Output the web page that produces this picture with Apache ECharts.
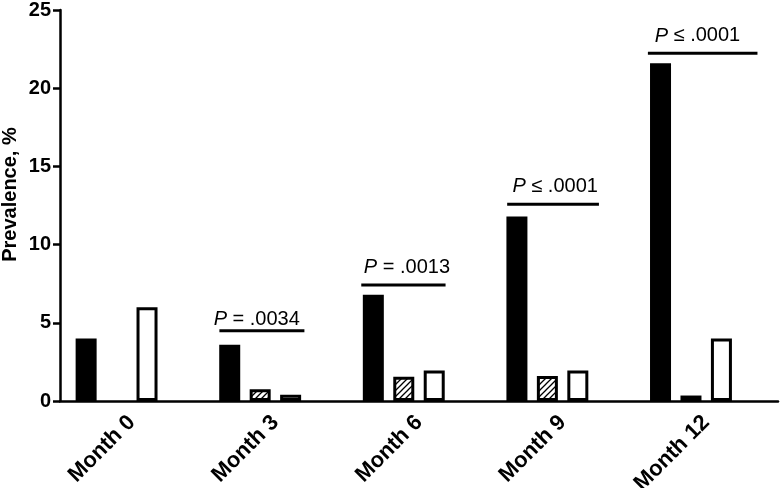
<!DOCTYPE html>
<html>
<head>
<meta charset="utf-8">
<script src="https://cdn.jsdelivr.net/npm/echarts@6/dist/echarts.min.js"></script>
<style>
html,body{margin:0;padding:0;background:#fff;}
#chart{width:780px;height:488px;}
</style>
</head>
<body>
<div id="chart"></div>
<script>
// ---- data ----
var categories = ['Month 0', 'Month 3', 'Month 6', 'Month 9', 'Month 12'];
var seriesBlack = [4.0, 3.6, 6.8, 11.8, 21.6];
var seriesHatched = [null, 0.75, 1.55, 1.6, 0.35];
var seriesWhite = [6.0, 0.4, 1.95, 1.95, 4.0];
var seriesEmpty = [0, 0, 0, 0, 0]; // unused 4th group slot (no visible bar)
var yTicks = [0, 5, 10, 15, 20, 25];

// P-value annotations (category index, levels in data units, extents in category-band units)
var pCategory = [1, 2, 3, 4];
var pLabels = ['{i|P} = .0034', '{i|P} = .0013', '{i|P} ≤ .0001', '{i|P} ≤ .0001'];
var pLineLevel = [4.49, 7.42, 12.58, 22.23];
var pTextLevel = [5.24, 8.54, 13.7, 23.34];
var pLineFrom = [-0.39, -0.402, -0.386, -0.406];
var pLineTo = [0.202, 0.185, 0.253, 0.357];
var pTextOffset = [-0.13, -0.084, -0.052, -0.061];

// ---- styles ----
var FONT = '"Liberation Sans", Arial, Helvetica, sans-serif';
var hatch = document.createElement('canvas');
hatch.width = 6; hatch.height = 6;
(function () {
  var c = hatch.getContext('2d');
  c.fillStyle = '#fff'; c.fillRect(0, 0, 6, 6);
  c.strokeStyle = '#000'; c.lineWidth = 1.3;
  c.beginPath();
  c.moveTo(0, 6); c.lineTo(6, 0);
  c.moveTo(-1, 1); c.lineTo(1, -1);
  c.moveTo(5, 7); c.lineTo(7, 5);
  c.stroke();
})();

var annData = pCategory.map(function (c, k) {
  return [c, pLineLevel[k], pTextLevel[k], pLineFrom[k], pLineTo[k], pTextOffset[k], k];
});

var chart = echarts.init(document.getElementById('chart'), null, {renderer: 'canvas'});
var barBase = {
  type: 'bar',
  barWidth: 21,
  barGap: '45%',
  animation: false
};
chart.setOption({
  animation: false,
  backgroundColor: '#fff',
  grid: {left: 60, right: 2, top: 10, bottom: 87, containLabel: false, outerBoundsMode: 'none'},
  xAxis: {
    type: 'category',
    data: categories,
    axisLine: {lineStyle: {color: '#000', width: 2.5}},
    axisTick: {alignWithLabel: true, length: 6, lineStyle: {color: '#000', width: 2.5}},
    axisLabel: {rotate: 45, color: '#000', fontWeight: 'bold', fontSize: 22, fontFamily: FONT, margin: 18}
  },
  yAxis: {
    type: 'value',
    min: yTicks[0], max: yTicks[yTicks.length - 1], interval: yTicks[1] - yTicks[0],
    name: 'Prevalence, %',
    nameLocation: 'middle',
    nameGap: 40,
    nameMoveOverlap: false,
    nameTextStyle: {color: '#000', fontWeight: 'bold', fontSize: 20, fontFamily: FONT, padding: [0, 0, 0, 22]},
    splitLine: {show: false},
    axisLine: {show: true, lineStyle: {color: '#000', width: 2.5}},
    axisTick: {show: true, length: 7, lineStyle: {color: '#000', width: 2.5}},
    axisLabel: {color: '#000', fontWeight: 'bold', fontSize: 20, fontFamily: FONT, margin: 9}
  },
  series: [
    Object.assign({}, barBase, {name: 'A', data: seriesBlack, itemStyle: {color: '#000', borderColor: '#000', borderWidth: 3}}),
    Object.assign({}, barBase, {name: 'B', data: seriesHatched, itemStyle: {color: {image: hatch, repeat: 'repeat'}, borderColor: '#000', borderWidth: 3}}),
    Object.assign({}, barBase, {name: 'C', data: seriesWhite, itemStyle: {color: '#fff', borderColor: '#000', borderWidth: 3}}),
    Object.assign({}, barBase, {name: 'D', data: seriesEmpty, silent: true, itemStyle: {color: 'rgba(0,0,0,0)', borderWidth: 0}}),
    {
      type: 'custom',
      name: 'P',
      animation: false,
      clip: false,
      silent: true,
      data: annData,
      encode: {x: 0, y: 1},
      renderItem: function (params, api) {
        var ci = api.value(0);
        var bw = api.size([1, 0])[0];
        var p = api.coord([ci, api.value(1)]);
        var t = api.coord([ci, api.value(2)]);
        var k = api.value(6);
        return {
          type: 'group',
          children: [
            {type: 'line', shape: {x1: p[0] + api.value(3) * bw, y1: p[1], x2: p[0] + api.value(4) * bw, y2: p[1]},
             style: {stroke: '#000', lineWidth: 3}},
            {type: 'text', style: {
              x: t[0] + api.value(5) * bw, y: t[1],
              text: pLabels[k],
              fill: '#000',
              font: '20px ' + FONT,
              align: 'center', verticalAlign: 'middle',
              rich: {i: {fontStyle: 'italic', fontSize: 20, fontFamily: FONT, fill: '#000'}}
            }}
          ]
        };
      }
    }
  ]
});
</script>
</body>
</html>
